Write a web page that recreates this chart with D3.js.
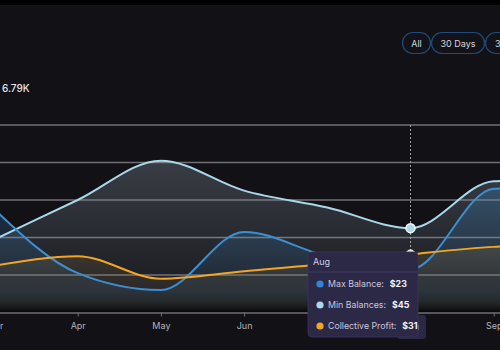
<!DOCTYPE html>
<html>
<head>
<meta charset="utf-8">
<script src="https://cdn.jsdelivr.net/npm/d3@7"></script>
<style>
  html, body { margin: 0; padding: 0; background: #121116; }
  svg { display: block; font-family: Inter, "Noto Sans", sans-serif; }
</style>
</head>
<body>
<svg id="chart" width="500" height="350"></svg>
<script>
const width = 500;
const height = 350;

// data
const months = ["Mar", "Apr", "May", "Jun", "Jul", "Aug", "Sep", "Oct"];
const maxBalance = [55, 21, 12, 43, 30, 23, 66, 67];
const minBalances = [39, 60, 81, 65, 56, 45, 70, 71];
const collectiveProfit = [25, 30, 18, 22, 26, 31, 35, 36];
const yTicks = [20, 40, 60, 80, 100];
const rangeButtons = ["All", "30 Days", "3 Months"];
const totalLabel = "6.79K";
const hoverIndex = 5;

const series = [
  { name: "Max Balance", values: maxBalance, color: "#3b8fd3", dot: "#2f86d6", fill: "#3b8fd3", op: 0.28 },
  { name: "Min Balances", values: minBalances, color: "#a9d8ea", dot: "#a9d8ea", fill: "#8a9aa8", op: 0.32 },
  { name: "Collective Profit", values: collectiveProfit, color: "#f2a623", dot: "#f2a623", fill: "#9a7a40", op: 0.22 }
];

const svg = d3.select("#chart");

svg.append("rect").attr("width", width).attr("height", height).attr("fill", "#121116");
svg.append("rect").attr("width", width).attr("height", 5).attr("fill", "#000");

const x = d3.scalePoint().domain(months).range([-5.5, -5.5 + 83.2 * (months.length - 1)]);
const y = d3.scaleLinear().domain([0, 100]).range([312.5, 125]);

const defs = svg.append("defs");
series.forEach((s, i) => {
  const g = defs.append("linearGradient")
    .attr("id", "grad" + i)
    .attr("x1", 0).attr("y1", 0).attr("x2", 0).attr("y2", 1);
  g.append("stop").attr("offset", "0%").attr("stop-color", s.fill).attr("stop-opacity", s.op);
  g.append("stop").attr("offset", "75%").attr("stop-color", s.fill).attr("stop-opacity", s.op * 0.35);
  g.append("stop").attr("offset", "100%").attr("stop-color", "#000").attr("stop-opacity", 0.35);
});

// total
svg.append("text")
  .attr("x", 2).attr("y", 91.5)
  .attr("fill", "#e4e4ea")
  .attr("font-size", 10)
  .attr("font-weight", 500)
  .text(totalLabel);

// range buttons
let bx = 402;
const btnW = [29, 54, 60];
rangeButtons.forEach((b, i) => {
  const g = svg.append("g").attr("transform", `translate(${bx},32)`);
  g.append("rect")
    .attr("x", 0.5).attr("y", 0.5)
    .attr("width", btnW[i] - 1).attr("height", 21)
    .attr("rx", 10.5)
    .attr("fill", "#131218")
    .attr("stroke", "#1d4c7c")
    .attr("stroke-width", 1.2);
  g.append("text")
    .attr("x", btnW[i] / 2).attr("y", 14.5)
    .attr("text-anchor", "middle")
    .attr("fill", "#d6d6de")
    .attr("font-size", 9)
    .text(b);
  bx += btnW[i];
});

// gridlines
svg.append("g")
  .selectAll("line")
  .data(yTicks)
  .join("line")
  .attr("x1", 0).attr("x2", width)
  .attr("y1", d => y(d)).attr("y2", d => y(d))
  .attr("stroke", "#6f6f75")
  .attr("stroke-width", 1.4);

// areas and lines
const area = d3.area()
  .x((d, i) => x(months[i]))
  .y0(y(0))
  .y1(d => y(d))
  .curve(d3.curveMonotoneX);

const line = d3.line()
  .x((d, i) => x(months[i]))
  .y(d => y(d))
  .curve(d3.curveMonotoneX);

const drawOrder = [1, 0, 2];
drawOrder.forEach(i => {
  svg.append("path")
    .attr("d", area(series[i].values))
    .attr("fill", `url(#grad${i})`);
});
drawOrder.forEach(i => {
  svg.append("path")
    .attr("d", line(series[i].values))
    .attr("fill", "none")
    .attr("stroke", series[i].color)
    .attr("stroke-width", 2);
});

// x axis (labels under the tooltip are covered, as in the original)
const xAxis = svg.append("g")
  .attr("transform", `translate(0,${y(0)})`)
  .call(d3.axisBottom(x).tickSize(4).tickPadding(6));
xAxis.select(".domain").attr("stroke", "#6f6f75").attr("stroke-width", 1.4);
xAxis.selectAll(".tick line").attr("stroke", "#6f6f75");
xAxis.selectAll(".tick text")
  .attr("fill", "#b4b4bc")
  .attr("font-size", 9)
  .attr("font-family", "Inter, sans-serif")
  .attr("visibility", (d, i) => i === hoverIndex - 1 || i === hoverIndex ? "hidden" : null);

// hover crosshair
const hx = x(months[hoverIndex]);
svg.append("line")
  .attr("x1", hx).attr("x2", hx)
  .attr("y1", y(100)).attr("y2", y(collectiveProfit[hoverIndex]))
  .attr("stroke", "#a0a0a6")
  .attr("stroke-width", 1)
  .attr("stroke-dasharray", "2,2");

svg.append("circle")
  .attr("cx", hx).attr("cy", y(collectiveProfit[hoverIndex]))
  .attr("r", 4.5)
  .attr("fill", "#e8dcc0")
  .attr("stroke", "#fff")
  .attr("stroke-width", 1);
svg.append("circle")
  .attr("cx", hx).attr("cy", y(minBalances[hoverIndex]))
  .attr("r", 4.5)
  .attr("fill", "#a9d8ea")
  .attr("stroke", "#f4fbff")
  .attr("stroke-width", 1.5);

// axis label box behind tooltip
svg.append("rect")
  .attr("x", 397).attr("y", 315)
  .attr("width", 29).attr("height", 24)
  .attr("rx", 3)
  .attr("fill", "#2b2846");
svg.append("line")
  .attr("x1", 418).attr("x2", 418)
  .attr("y1", 325).attr("y2", 330)
  .attr("stroke", "#c9c6dc")
  .attr("stroke-width", 1);

// tooltip
const tip = svg.append("g").attr("transform", "translate(308,252)");
tip.append("rect")
  .attr("width", 110).attr("height", 85)
  .attr("rx", 4)
  .attr("fill", "#2c2947")
  .attr("stroke", "#3a365a")
  .attr("stroke-width", 0.8);
tip.append("text")
  .attr("x", 5).attr("y", 13)
  .attr("fill", "#cfcce3")
  .attr("font-size", 9)
  .text(months[hoverIndex]);
tip.append("line")
  .attr("x1", 0).attr("x2", 110)
  .attr("y1", 20).attr("y2", 20)
  .attr("stroke", "#3e3a62")
  .attr("stroke-width", 1);

series.forEach((s, i) => {
  const ry = 32 + i * 21;
  tip.append("circle")
    .attr("cx", 12).attr("cy", ry)
    .attr("r", 3.6)
    .attr("fill", s.dot);
  const t = tip.append("text")
    .attr("x", 20).attr("y", ry + 3.3)
    .attr("font-size", 8.8);
  t.append("tspan")
    .attr("fill", "#c9c6dc")
    .text(s.name + ":");
  t.append("tspan")
    .attr("fill", "#f2f2f6")
    .attr("font-weight", 700)
    .attr("dx", 6)
    .text("$" + s.values[hoverIndex]);
});
</script>
</body>
</html>
